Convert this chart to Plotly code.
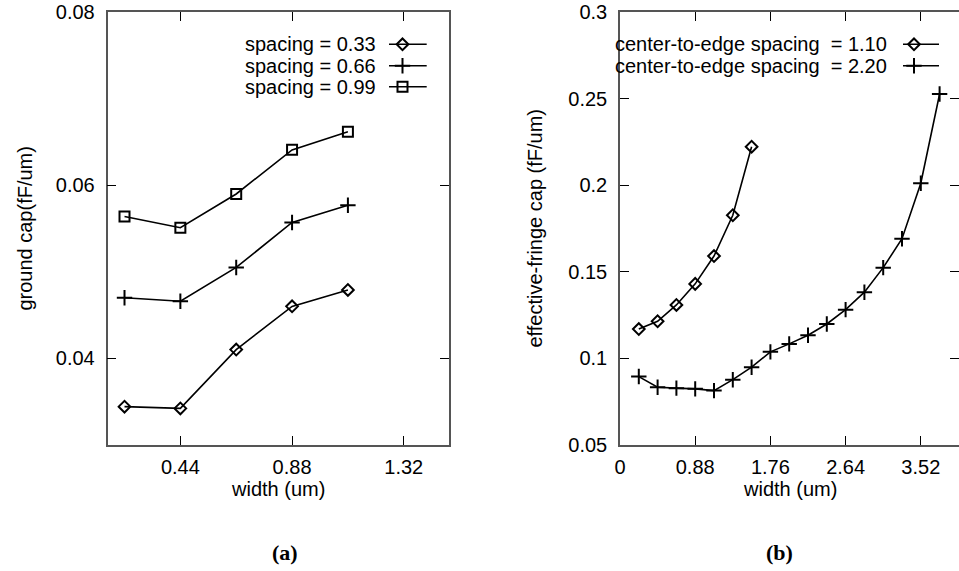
import plotly.graph_objects as go

# ---- data: panel (a) ----
width_a = [0.22, 0.44, 0.66, 0.88, 1.10]
ground_033 = [0.0344, 0.0342, 0.0410, 0.0460, 0.0479]
ground_066 = [0.0470, 0.0466, 0.0505, 0.0557, 0.0577]
ground_099 = [0.0564, 0.0551, 0.0590, 0.0641, 0.0662]
names_a = ["spacing = 0.33", "spacing = 0.66", "spacing = 0.99"]

# ---- data: panel (b) ----
width_b1 = [0.22, 0.44, 0.66, 0.88, 1.10, 1.32, 1.54]
fringe_110 = [0.1169, 0.1214, 0.1308, 0.1430, 0.1591, 0.1827, 0.2223]
width_b2 = [0.22, 0.44, 0.66, 0.88, 1.10, 1.32, 1.54, 1.76, 1.98, 2.20,
            2.42, 2.64, 2.86, 3.08, 3.30, 3.52, 3.74]
fringe_220 = [0.0894, 0.0832, 0.0827, 0.0823, 0.0813, 0.0876, 0.0948, 0.1037,
              0.1083, 0.1133, 0.1198, 0.1281, 0.1382, 0.1524, 0.1691, 0.2012, 0.2528]
names_b = ["center-to-edge spacing  = 1.10", "center-to-edge spacing  = 2.20"]

# tick labels
xt_a = [0.44, 0.88, 1.32]
yt_a = [0.04, 0.06, 0.08]
xt_b = [0, 0.88, 1.76, 2.64, 3.52]
yt_b = [0.05, 0.1, 0.15, 0.2, 0.25, 0.3]

W, H = 959, 571
FONT = "Liberation Sans, Arial, sans-serif"
FS = 20

def px(x):
    return x / W

def py(y):
    return 1 - y / H

fig = go.Figure()

line = dict(color="black", width=1.6)
sym = {"d": dict(symbol="diamond-open", size=9, color="black", line=dict(width=2, color="black")),
       "p": dict(symbol="cross-thin-open", size=11, color="black", line=dict(width=2, color="black")),
       "s": dict(symbol="square-open", size=10, color="black", line=dict(width=2, color="black"))}

# panel a traces
for ys, k, nm in zip([ground_033, ground_066, ground_099], ["d", "p", "s"], names_a):
    fig.add_trace(go.Scatter(x=width_a, y=ys, mode="lines+markers", line=line,
                             marker=sym[k], name=nm, showlegend=False,
                             xaxis="x", yaxis="y", cliponaxis=False))
# panel b traces
for xs, ys, k, nm in zip([width_b1, width_b2], [fringe_110, fringe_220], ["d", "p"], names_b):
    fig.add_trace(go.Scatter(x=xs, y=ys, mode="lines+markers", line=line,
                             marker=sym[k], name=nm, showlegend=False,
                             xaxis="x2", yaxis="y2", cliponaxis=False))

# geometry (screen pixels)
a_l, a_r, top, bot = 107.5, 448.7, 12.4, 444.7
b_l, b_r = 620, 959

# manual legends (sample on the right of the text), drawn on a full-figure helper axis
legend_rows_a = [44.3, 65.7, 86.8]
legend_rows_b = [44.3, 65.7]
for i, (nm, k) in enumerate(zip(names_a, ["d", "p", "s"])):
    yy = legend_rows_a[i]
    fig.add_trace(go.Scatter(x=[px(389), px(426.7)], y=[py(yy), py(yy)], mode="lines",
                             line=line, xaxis="x3", yaxis="y3", showlegend=False,
                             hoverinfo="skip", cliponaxis=False))
    fig.add_trace(go.Scatter(x=[px(402.5)], y=[py(yy)], mode="markers", marker=sym[k],
                             xaxis="x3", yaxis="y3", showlegend=False, hoverinfo="skip",
                             cliponaxis=False))
    fig.add_annotation(x=px(378), y=py(yy), xref="paper", yref="paper", text=nm,
                       showarrow=False, xanchor="right", yanchor="middle",
                       font=dict(family=FONT, size=FS, color="black"))
for i, (nm, k) in enumerate(zip(names_b, ["d", "p"])):
    yy = legend_rows_b[i]
    fig.add_trace(go.Scatter(x=[px(903), px(939)], y=[py(yy), py(yy)], mode="lines",
                             line=line, xaxis="x3", yaxis="y3", showlegend=False,
                             hoverinfo="skip", cliponaxis=False))
    fig.add_trace(go.Scatter(x=[px(914)], y=[py(yy)], mode="markers", marker=sym[k],
                             xaxis="x3", yaxis="y3", showlegend=False, hoverinfo="skip",
                             cliponaxis=False))
    fig.add_annotation(x=px(889), y=py(yy), xref="paper", yref="paper",
                       text=nm.replace("  ", "&nbsp; "),
                       showarrow=False, xanchor="right", yanchor="middle",
                       font=dict(family=FONT, size=FS, color="black"))

common = dict(showgrid=False, zeroline=False, showline=True, linecolor="#555555",
              linewidth=1.5, ticks="inside", ticklen=9, tickwidth=1.3, tickcolor="black",
              mirror="allticks", automargin=False, ticklabeloverflow="allow",
              tickfont=dict(family=FONT, size=FS, color="black"))
xc = dict(common, ticklabelstandoff=4)
yc = dict(common, ticklabelstandoff=7)

fig.update_layout(
    width=W, height=H, margin=dict(l=0, r=0, t=0, b=0, pad=0),
    plot_bgcolor="rgba(0,0,0,0)", paper_bgcolor="white", showlegend=False,
    hovermode=False,
    xaxis=dict(domain=[px(a_l), px(a_r)], range=[0.153, 1.497], anchor="y",
               tickvals=xt_a, ticktext=["%.2f" % v for v in xt_a], **xc),
    yaxis=dict(domain=[py(bot), py(top)], range=[0.03, 0.08], anchor="x",
               tickvals=yt_a, ticktext=["%.2f" % v for v in yt_a], **yc),
    xaxis2=dict(domain=[px(b_l), px(b_r)], range=[0, 3.967], anchor="y2",
                tickvals=xt_b, ticktext=["0", "0.88", "1.76", "2.64", "3.52"], **xc),
    yaxis2=dict(domain=[py(bot), py(top)], range=[0.05, 0.3], anchor="x2",
                tickvals=yt_b, ticktext=["0.05", "0.1", "0.15", "0.2", "0.25", "0.3"], **yc),
    xaxis3=dict(domain=[0, 1], range=[0, 1], visible=False, anchor="y3", automargin=False),
    yaxis3=dict(domain=[0, 1], range=[0, 1], visible=False, anchor="x3", automargin=False),
)

# axis titles
tf = dict(family=FONT, size=FS, color="black")
ctr = dict(xref="paper", yref="paper", showarrow=False, xanchor="center", yanchor="middle")
fig.add_annotation(x=px(278), y=py(489), text="width (um)", font=tf, **ctr)
fig.add_annotation(x=px(790), y=py(489), text="width (um)", font=tf, **ctr)
fig.add_annotation(x=px(25), y=py(228.6), text="ground cap(fF/um)", textangle=-90, font=tf, **ctr)
fig.add_annotation(x=px(535), y=py(228.6), text="effective-fringe cap (fF/um)",
                   textangle=-90, font=tf, **ctr)

# panel labels
lf = dict(family="Liberation Serif, DejaVu Serif, serif", size=22, color="black")
fig.add_annotation(x=px(285), y=py(552), text="<b>(a)</b>", font=lf, **ctr)
fig.add_annotation(x=px(779), y=py(552), text="<b>(b)</b>", font=lf, **ctr)

fig.write_html("out.html", config={"displayModeBar": False},
               post_script="document.body.style.margin='0px';document.body.style.overflow='hidden';")
